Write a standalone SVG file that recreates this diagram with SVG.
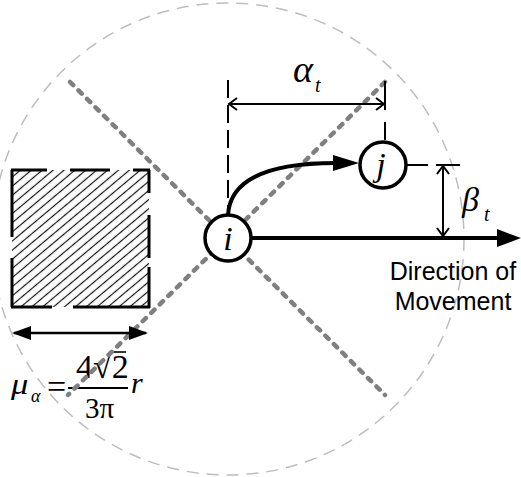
<svg xmlns="http://www.w3.org/2000/svg" width="521" height="477" viewBox="0 0 521 477">
<style>
.math{font-family:"Liberation Serif","Times New Roman",serif;fill:#000}
.it{font-style:italic}
.lbl{font-family:"Liberation Sans",Arial,sans-serif;font-size:25px;fill:#000;text-anchor:middle}
.node{fill:#fff;stroke:#000;stroke-width:3.5}
.diag{stroke:#7f7f7f;stroke-width:4.5;stroke-dasharray:4.5 7.5;stroke-linecap:round;fill:none}
.thin{stroke:#000;stroke-width:2;fill:none}
.chev{stroke:#000;stroke-width:2;fill:none;stroke-linejoin:miter}
.thick{stroke:#000;stroke-width:4;fill:none}
</style>
<defs>
<pattern id="hatch" patternUnits="userSpaceOnUse" width="10" height="7" patternTransform="rotate(-40)">
<line x1="0" y1="3.5" x2="10" y2="3.5" stroke="#111" stroke-width="1.2"/>
</pattern>
</defs>
<rect width="521" height="477" fill="#fff"/>
<g id="outer-circle">
<circle cx="228" cy="239" r="236" fill="none" stroke="#bdbdbd" stroke-width="1.5" stroke-dasharray="12 8"/>
</g>
<g id="region">
<rect x="12" y="170" width="137" height="137" fill="url(#hatch)"/>
<path class="thick" style="stroke-width:3" d="M11,170H47M70,170H110M133,170H150M149,170V193M149,215V258M149,267V308M150,307H73M52,307H11M12,307V258M12,237V170"/>
</g>
<g id="formula">
<text class="math it" font-size="30" transform="translate(11,394) scale(1.15,1)">μ</text>
<text class="math it" font-size="18" x="31" y="402">α</text>
<text class="math" font-size="34" x="47" y="398">=</text>
<text class="math" x="76" y="378" font-size="34">4√2</text>
<line x1="109" y1="352" x2="126" y2="352" stroke="#000" stroke-width="1.6"/>
<line x1="68" y1="388" x2="128" y2="388" stroke="#000" stroke-width="2"/>
<text class="math" x="85" y="418" font-size="29">3π</text>
<text class="math it" x="131" y="393" font-size="30">r</text>
</g>
<g id="connectors">
<line class="diag" x1="70" y1="82" x2="385" y2="395"/>
<line class="diag" x1="385" y1="82" x2="68" y2="395"/>
<line x1="228" y1="80" x2="228" y2="214" stroke="#000" stroke-width="2" stroke-dasharray="18 7"/>
<line class="thin" x1="229" y1="104" x2="384" y2="104"/>
<path class="chev" d="M237,98L229,104L237,110M376,98L384,104L376,110"/>
<path class="thin" d="M385,81V110M385,122V140"/>
<path class="thick" d="M228,215C230,178 272,163 336,163"/>
<polygon points="333,155 359,163 333,171" fill="#000"/>
<line class="thick" x1="251" y1="238" x2="499" y2="238"/>
<polygon points="497,229 521,238 497,247" fill="#000"/>
<line class="thin" x1="443" y1="167" x2="443" y2="236"/>
<path class="chev" d="M437,174L443,166L449,174M437,228L443,236L449,228"/>
<path class="thin" d="M407,165H428M436,165H460"/>
<line x1="14" y1="333" x2="146" y2="333" stroke="#000" stroke-width="2.5"/>
<polygon points="12,333 31,326 31,340" fill="#000"/>
<polygon points="148,333 129,326 129,340" fill="#000"/>
</g>
<g id="node-i">
<circle class="node" cx="228" cy="238" r="23"/>
<text class="math it" x="228" y="250" font-size="34" text-anchor="middle">i</text>
</g>
<g id="node-j">
<circle class="node" cx="383" cy="165" r="23"/>
<text class="math it" x="381" y="176" font-size="34" text-anchor="middle">j</text>
</g>
<g id="labels">
<text class="math it" font-size="38" x="293" y="82">α</text>
<text class="math it" x="315" y="92" font-size="20">t</text>
<text class="math it" x="462" y="211" font-size="34">β</text>
<text class="math it" x="484" y="221" font-size="20">t</text>
<text class="lbl" x="453" y="280">Direction of</text>
<text class="lbl" x="453" y="310">Movement</text>
</g>
</svg>
